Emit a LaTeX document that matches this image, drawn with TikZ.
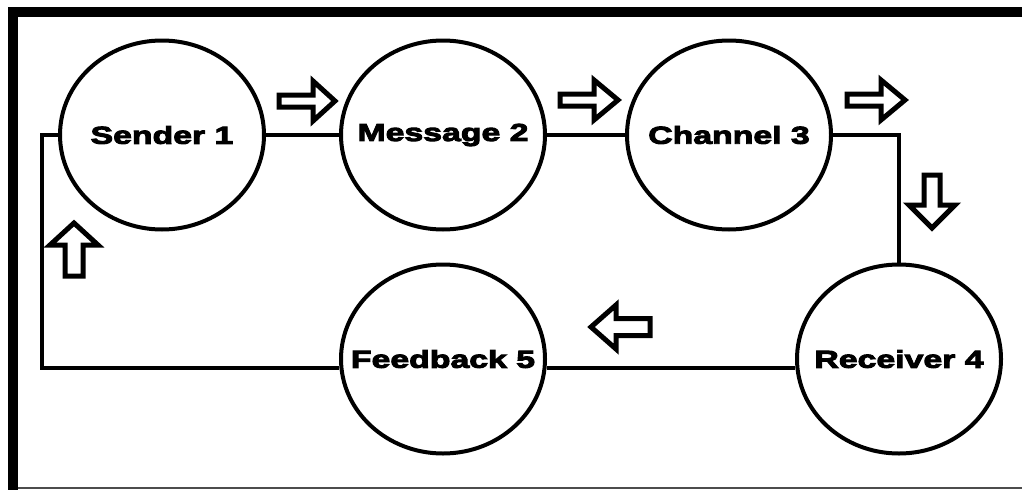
\documentclass[tikz,border=0pt]{standalone}
\usepackage{fontspec}
\usetikzlibrary{shapes.geometric}
\newfontfamily\labfont{Liberation Sans Bold}[FakeStretch=1.38, FakeBold=4]
\newcommand{\lab}[1]{\makebox[0pt]{\labfont\fontsize{24.5}{28}\selectfont #1}}
\tikzset{
  bubble/.style={draw=black, line width=4pt, ellipse, inner sep=0pt,
    minimum width=204pt, minimum height=189pt, fill=white},
  link/.style={draw=black, line width=4pt, line join=miter},
  blockarrow/.style={draw=black, line width=5pt, line join=miter, fill=white},
  frame/.style={draw=black, line width=10pt}
}
\begin{document}
\begin{tikzpicture}[x=1pt, y=-1pt]
\useasboundingbox (0,0) rectangle (1022,490);
% frame
\draw[frame] (8,12) -- (1022,12);
\draw[frame] (13,7) -- (13,490);
\draw[draw=black!70, line width=2pt] (18,488) -- (1022,488);

% nodes
\node[bubble] (s1) at (162,135) {\lab{Sender 1}};
\node[bubble] (m2) at (443,135) {\lab{Message 2}};
\node[bubble] (c3) at (729,135) {\lab{Channel 3}};
\node[bubble] (r4) at (899,359) {\lab{Receiver 4}};
\node[bubble] (f5) at (443,359) {\lab{Feedback 5}};

\coordinate (tl) at (42,135);

% connectors
\draw[link] (s1.east) -- (m2.west);
\draw[link] (m2.east) -- (c3.west);
\draw[link] (c3.east) -| (r4.north);
\draw[link] (r4.185) -- (f5.-5);
\draw[link] (f5.185) -| (tl) -- (s1.west);

% block arrows
\draw[blockarrow] (279,95) -- (313,95) -- (313,81) -- (335,101) -- (313,121) -- (313,107) -- (279,107) -- cycle;
\draw[blockarrow] (560,94) -- (594,94) -- (594,80) -- (618,100) -- (594,120) -- (594,106) -- (560,106) -- cycle;
\draw[blockarrow] (847,94) -- (881,94) -- (881,80) -- (905,100) -- (881,120) -- (881,106) -- (847,106) -- cycle;
\draw[blockarrow] (924,175) -- (940,175) -- (940,205) -- (955,205) -- (932,228) -- (909,205) -- (924,205) -- cycle;
\draw[blockarrow] (65,276) -- (83,276) -- (83,245) -- (98,245) -- (74,223) -- (50,245) -- (65,245) -- cycle;
\draw[blockarrow] (650,318.5) -- (616,318.5) -- (616,305) -- (591,327) -- (616,349) -- (616,335.5) -- (650,335.5) -- cycle;
\end{tikzpicture}
\end{document}
